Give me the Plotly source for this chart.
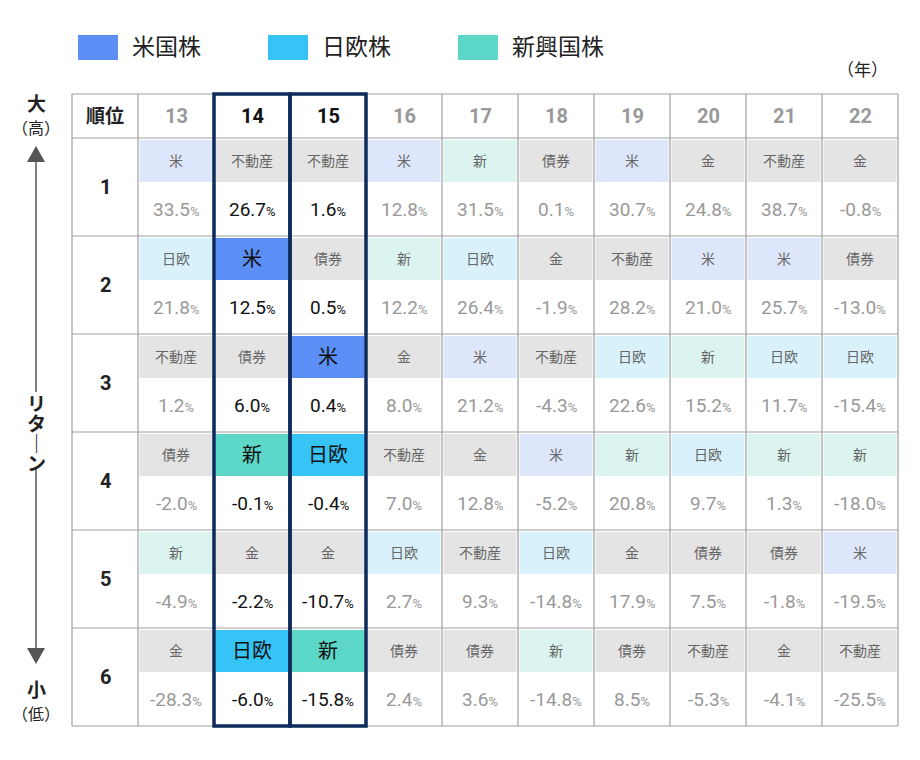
import plotly.graph_objects as go

years = ["13","14","15","16","17","18","19","20","21","22"]
ranks = ["1","2","3","4","5","6"]
labels = {
 "13": ["米","日欧","不動産","債券","新","金"],
 "14": ["不動産","米","債券","新","金","日欧"],
 "15": ["不動産","債券","米","日欧","金","新"],
 "16": ["米","新","金","不動産","日欧","債券"],
 "17": ["新","日欧","米","金","不動産","債券"],
 "18": ["債券","金","不動産","米","日欧","新"],
 "19": ["米","不動産","日欧","新","金","債券"],
 "20": ["金","米","新","日欧","債券","不動産"],
 "21": ["不動産","米","日欧","新","債券","金"],
 "22": ["金","債券","日欧","新","米","不動産"],
}
values = {
 "13": [33.5,21.8,1.2,-2.0,-4.9,-28.3],
 "14": [26.7,12.5,6.0,-0.1,-2.2,-6.0],
 "15": [1.6,0.5,0.4,-0.4,-10.7,-15.8],
 "16": [12.8,12.2,8.0,7.0,2.7,2.4],
 "17": [31.5,26.4,21.2,12.8,9.3,3.6],
 "18": [0.1,-1.9,-4.3,-5.2,-14.8,-14.8],
 "19": [30.7,28.2,22.6,20.8,17.9,8.5],
 "20": [24.8,21.0,15.2,9.7,7.5,-5.3],
 "21": [38.7,25.7,11.7,1.3,-1.8,-4.1],
 "22": [-0.8,-13.0,-15.4,-18.0,-19.5,-25.5],
}
highlight_years = ["14","15"]
legend_names = ["米国株","日欧株","新興国株"]
legend_keys = ["米","日欧","新"]

light = {"米":"#dde6fb","日欧":"#d8f1fb","新":"#dbf4ef"}
strong = {"米":"#5b8ff5","日欧":"#36c3f5","新":"#5dd7c7"}
grey_cell = "#e4e4e4"
FONT = "Roboto, Noto Sans CJK JP, sans-serif"

X0, RANKW, COLW = 72, 66, 76
Y0, HEADH, ROWH = 94, 44, 98

shapes, ann = [], []
def text(x,y,t,size,color,xa="center",**kw):
    ann.append(dict(x=x,y=y,text=t,showarrow=False,xanchor=xa,yanchor="middle",
                    font=dict(family=FONT,size=size,color=color),**kw))

xend = X0+RANKW+COLW*len(years)
yend = Y0+HEADH+ROWH*len(ranks)

for i,y in enumerate(years):
    cx0 = X0+RANKW+COLW*i
    hl = y in highlight_years
    for r in range(len(ranks)):
        ry = Y0+HEADH+ROWH*r
        lab = labels[y][r]
        fill = strong[lab] if (hl and lab in strong) else light.get(lab, grey_cell)
        shapes.append(dict(type="rect",x0=cx0+1.5,y0=ry+2,x1=cx0+COLW-1.5,y1=ry+44,
                           fillcolor=fill,line=dict(width=0),layer="below"))
        if hl and lab in strong:
            text(cx0+COLW/2, ry+23, lab, 20, "#111")
        else:
            text(cx0+COLW/2, ry+23, lab, 14, "#666")
        v = values[y][r]
        col = "#111" if hl else "#999"
        text(cx0+COLW/2, ry+71, f"{v:.1f}<span style='font-size:13px'>%</span>", 19, col)
    text(cx0+COLW/2, Y0+HEADH/2, f"<b>{y}</b>", 20, "#111" if hl else "#999")

text(X0+RANKW/2, Y0+HEADH/2, "<b>順位</b>", 19, "#222")
for r,rk in enumerate(ranks):
    text(X0+RANKW/2, Y0+HEADH+ROWH*r+ROWH/2, f"<b>{rk}</b>", 20, "#222")

gl = dict(color="#a0a0a0", width=1.2)
for i in range(len(years)+2):
    x = X0 if i==0 else X0+RANKW+COLW*(i-1)
    shapes.append(dict(type="line",x0=x,x1=x,y0=Y0,y1=yend,line=gl))
for r in range(len(ranks)+2):
    yy = Y0 if r==0 else Y0+HEADH+ROWH*(r-1)
    shapes.append(dict(type="line",x0=X0,x1=xend,y0=yy,y1=yy,line=gl))

for y in highlight_years:
    i = years.index(y)
    cx0 = X0+RANKW+COLW*i
    shapes.append(dict(type="rect",x0=cx0,x1=cx0+COLW,y0=Y0,y1=yend,
                       line=dict(color="#0c2a5b",width=3.5),fillcolor="rgba(0,0,0,0)"))

for k,(nm,key) in enumerate(zip(legend_names,legend_keys)):
    lx = 78+190*k
    shapes.append(dict(type="rect",x0=lx,x1=lx+40,y0=35,y1=60,fillcolor=strong[key],line=dict(width=0)))
    text(lx+52, 47, nm, 23, "#222", xa="left")
text(862, 70, "（年）", 17, "#222")

text(36, 104, "<b>大</b>", 19, "#222")
text(36, 128, "（高）", 16, "#222")
text(36, 690, "<b>小</b>", 19, "#222")
text(36, 714, "（低）", 16, "#222")
shapes.append(dict(type="line",x0=36,x1=36,y0=160,y1=392,line=dict(color="#555",width=1.5)))
shapes.append(dict(type="line",x0=36,x1=36,y0=468,y1=648,line=dict(color="#555",width=1.5)))
shapes.append(dict(type="path",path="M 27 162 L 45 162 L 36 146 Z",fillcolor="#555",line=dict(width=0)))
shapes.append(dict(type="path",path="M 27 648 L 45 648 L 36 664 Z",fillcolor="#555",line=dict(width=0)))
for j,ch in enumerate(["リ","タ","｜","ン"]):
    text(36, 404+j*20, f"<b>{ch}</b>", 19, "#222")

fig = go.Figure()
fig.update_layout(width=904,height=744,margin=dict(l=0,r=0,t=0,b=0),
                  paper_bgcolor="white",plot_bgcolor="white",
                  xaxis=dict(range=[8,912],visible=False,fixedrange=True),
                  yaxis=dict(range=[752,8],visible=False,fixedrange=True),
                  shapes=shapes,annotations=ann,showlegend=False)
fig.write_html("out.html")
